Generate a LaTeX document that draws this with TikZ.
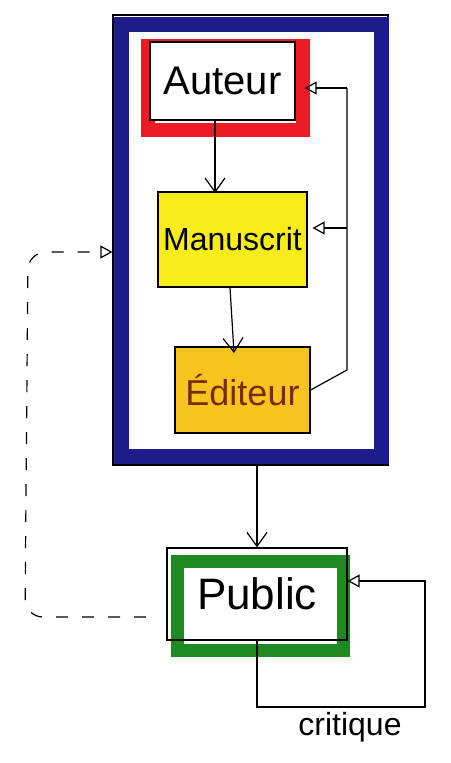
\documentclass[tikz,border=0pt]{standalone}
\usepackage{fontspec}
\setmainfont{Liberation Sans}
\usetikzlibrary{arrows.meta,calc}
\definecolor{navy}{HTML}{1C1C8A}
\definecolor{mred}{HTML}{EC1A24}
\definecolor{myellow}{HTML}{F6EC1A}
\definecolor{morange}{HTML}{F6C41E}
\definecolor{mgreen}{HTML}{1F8A22}
\definecolor{brownred}{HTML}{7A2A08}
\begin{document}
\begin{tikzpicture}[x=1pt,y=-1pt,
  line width=1.2pt,
  box/.style={draw=black, line width=1.2pt, rectangle, inner sep=0pt},
  arr/.style={-{Straight Barb[length=14pt,width=20pt]}},
  tri/.style={-{Triangle[open,length=12pt,width=13pt]}},
  big/.style={font=\fontsize{#1}{#1}\selectfont}]
\useasboundingbox (0,0) rectangle (450,763);
% outer frame
\node[box, minimum width=275pt, minimum height=450pt] (frame) at (250.5,240) {};
\draw[navy, line width=15pt] (121,24) rectangle (381,456);
% Auteur
\draw[mred, line width=14pt] (148,46) rectangle (303,130);
\node[box, fill=white, minimum width=145pt, minimum height=78pt, big=40] (auteur) at (222.5,81) {Auteur};
% Manuscrit
\node[box, fill=myellow, minimum width=149pt, minimum height=95pt, big=32] (manuscrit) at (232.5,239.5) {Manuscrit};
% Editeur
\node[box, fill=morange, minimum width=135pt, minimum height=86pt, big=36, text=brownred] (editeur) at (242.5,390) {Éditeur};
% Public
\draw[mgreen, line width=13pt] (177,561) rectangle (343,650);
\node[box, minimum width=180pt, minimum height=92pt, big=44] (public) at (257,594) {Public};
% arrows inside
\draw[arr] (auteur.south -| 215,0) -- (215,193);
\draw[arr] (manuscrit.south -| 230,0) -- (234,353);
% feedback
\coordinate (rtop) at (347,88);
\coordinate (rmid) at (347,228);
\coordinate (rbot) at (347,370);
\coordinate (aE) at ($(auteur.east)+(9,0)$);
\draw (editeur.east) -- (rbot) -- (rtop);
\draw[tri] (rtop) -- (rtop -| aE);
\draw[tri, shorten >=5pt] (rmid) -- (rmid -| manuscrit.east);
% frame to public
\draw[arr] (frame.south -| public.north) -- (public.north);
% critique loop
\coordinate (lp1) at (257,707);
\coordinate (lp2) at (425,707);
\coordinate (lp3) at (425,581);
\draw[tri] (public.south) -- (lp1) -- (lp2) -- (lp3) -- (lp3 -| public.east);
\node[big=32] (crit) at (350,727) {critique};
% dashed return
\coordinate (d0) at (146,617);
\coordinate (d1) at (25,617);
\coordinate (d2) at (28,252);
\draw[tri, dash pattern=on 12pt off 14pt, rounded corners=18pt] (d0) -- (d1) -- (d2) -- (d2 -| frame.west);
\end{tikzpicture}
\end{document}
